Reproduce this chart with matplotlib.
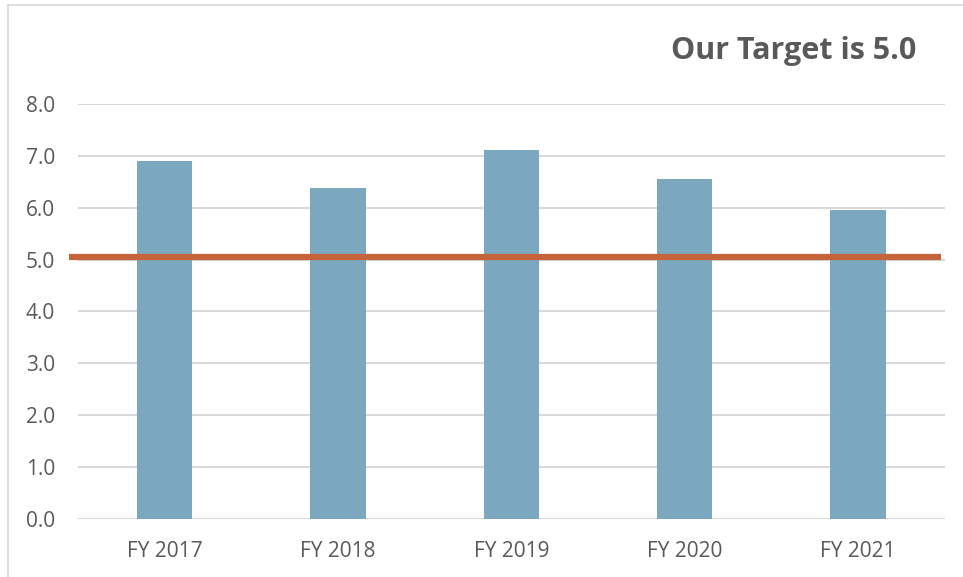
import matplotlib
matplotlib.use('Agg')
import matplotlib.pyplot as plt
from matplotlib.lines import Line2D

years = ['FY 2017', 'FY 2018', 'FY 2019', 'FY 2020', 'FY 2021']
scores = [6.90, 6.38, 7.11, 6.56, 5.95]
target = 5.05
target_span = [-0.55, 4.48]

plt.rcParams['font.family'] = ['Open Sans', 'DejaVu Sans']
grey = '#595959'

fig = plt.figure(figsize=(9.63, 5.77), dpi=100)
ax = fig.add_axes([0.081, 0.1005, 0.9, 0.7193])

x = range(len(years))
ax.bar(x, scores, width=0.32, color='#7BA8BE', zorder=2)
ax.plot(target_span, [target, target], color='#C5643A', lw=4.5,
        solid_capstyle='butt', clip_on=False, zorder=3)

ax.set_xlim(-0.5, len(years) - 0.5)
ax.set_ylim(0, 8)
ax.set_yticks(range(0, 9))
ax.set_yticklabels(['%.1f' % v for v in range(0, 9)])
ax.set_xticks(list(x))
ax.set_xticklabels(years)
ax.tick_params(length=0, labelsize=15, colors=grey)
ax.tick_params(axis='y', pad=16.5)
ax.tick_params(axis='x', pad=16)
ax.grid(axis='y', color='#D9D9D9', lw=1.5, zorder=0)
for s in ax.spines.values():
    s.set_visible(False)
ax.axhline(0, color='#D9D9D9', lw=1.5, zorder=1)

fig.text(0.824, 0.912, 'Our Target is 5.0', ha='center', va='center',
         fontsize=22, fontweight='bold', color=grey)

# light chart border (left and top)
fig.add_artist(Line2D([8 / 963, 8 / 963], [0, 1 - 5 / 577], color='#D9D9D9', lw=1.2))
fig.add_artist(Line2D([8 / 963, 1], [1 - 5 / 577, 1 - 5 / 577], color='#D9D9D9', lw=1.2))

fig.savefig('out.png', dpi=100)
